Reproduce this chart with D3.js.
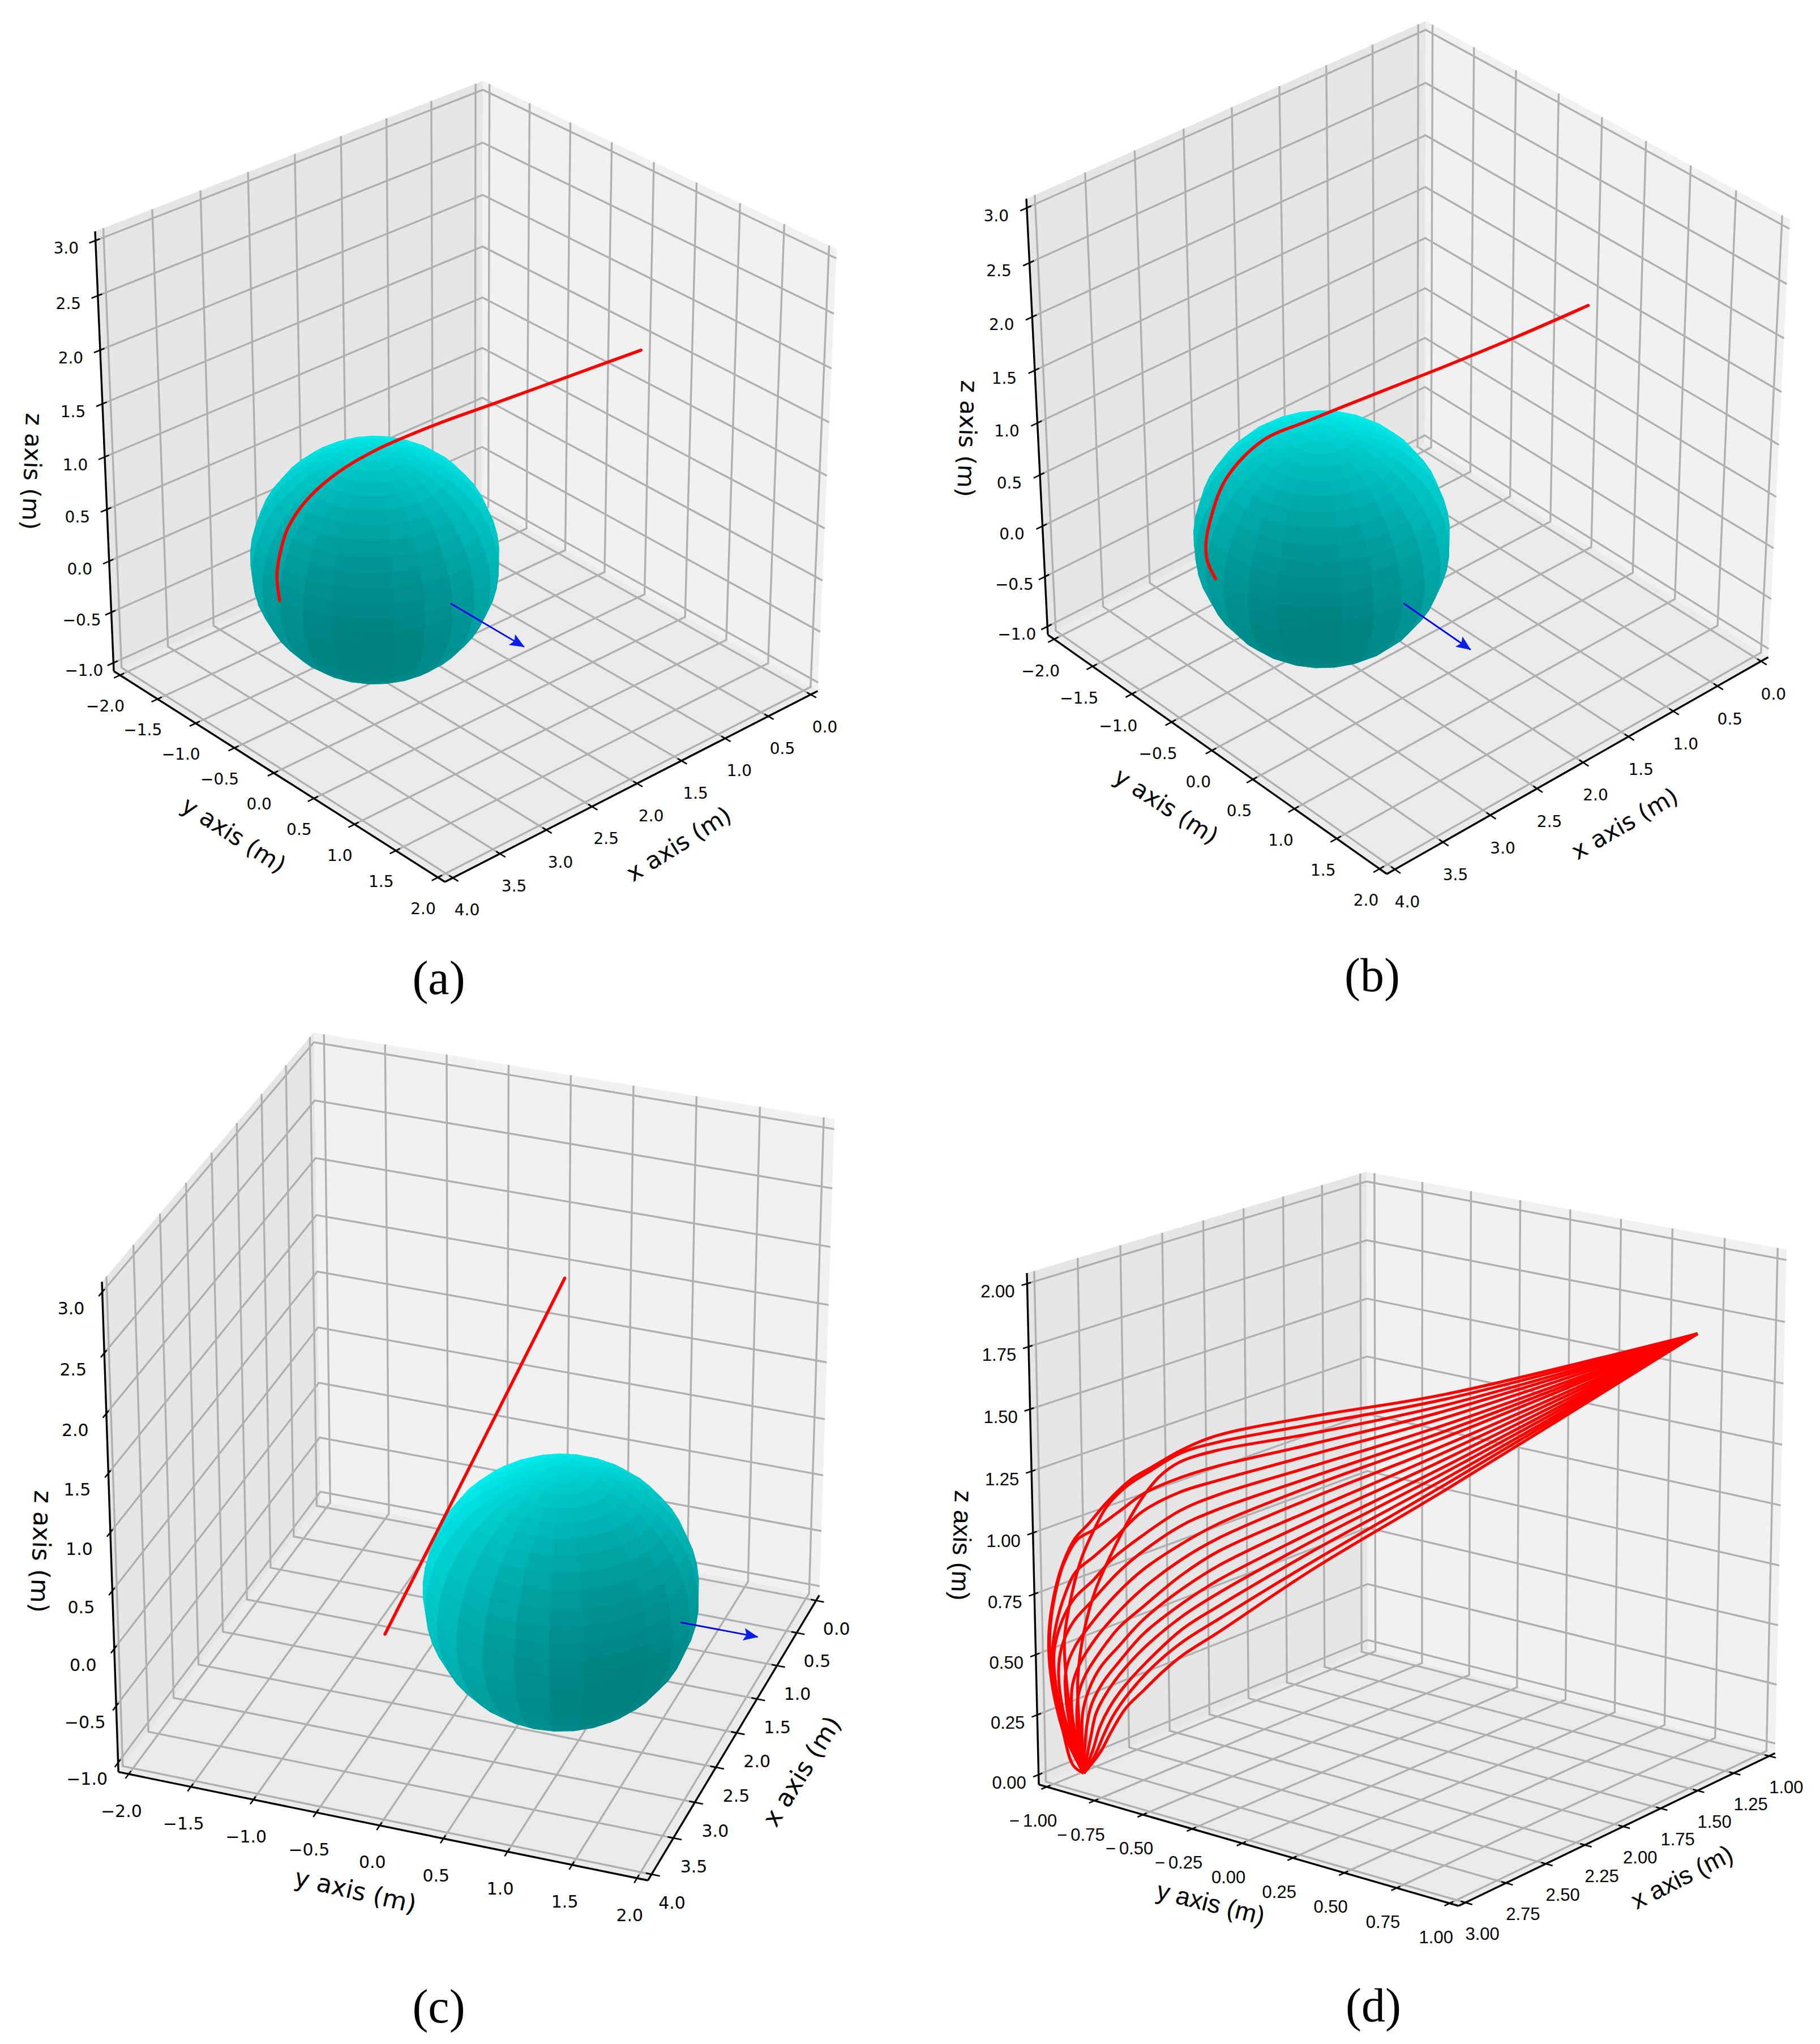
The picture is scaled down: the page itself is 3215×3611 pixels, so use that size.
<!DOCTYPE html>
<html>
<head>
<meta charset="utf-8">
<script src="https://cdn.jsdelivr.net/npm/d3@7"></script>
<style>
  body { margin: 0; background: #fff; }
</style>
</head>
<body>
<div id="chart"></div>
<script>
////////////////////////////////////////////////////////////////////////////////
// Data
////////////////////////////////////////////////////////////////////////////////
const ticksWide = { x: [0, 0.5, 1, 1.5, 2, 2.5, 3, 3.5, 4], y: [-2, -1.5, -1, -0.5, 0, 0.5, 1, 1.5, 2], z: [-1, -0.5, 0, 0.5, 1, 1.5, 2, 2.5, 3] };
const ticksNarrow = { x: [1, 1.25, 1.5, 1.75, 2, 2.25, 2.5, 2.75, 3], y: [-1, -0.75, -0.5, -0.25, 0, 0.25, 0.5, 0.75, 1], z: [0, 0.25, 0.5, 0.75, 1, 1.25, 1.5, 1.75, 2] };

// trajectory, one row per panel (a, b, c)
const trajX = [
  [0.02, 0.996, 1.993, 2.752, 3.488, 3.942, 4.226, 4.325, 4.285, 4.21, 4.04],
  [0.02, 0.996, 1.993, 2.752, 3.488, 3.942, 4.226, 4.325, 4.25, 4.16, 4.0],
  [0.02, 0.996, 1.993, 2.752, 3.488, 3.942, 4.226, 4.325, 4.25, 4.16, 4.0]
];
const trajY = [
  [0.0, 0.194, 0.388, 0.5, 0.61, 0.66, 0.63, 0.53, 0.37, 0.25, 0.07],
  [0.0, 0.194, 0.37, 0.47, 0.535, 0.53, 0.43, 0.34, 0.2, 0.1, 0.0],
  [0.0, 0.185, 0.367, 0.488, 0.598, 0.651, 0.619, 0.509, 0.332, 0.216, 0.022]
];
const trajZ = [
  [1.36, 1.56, 1.76, 1.89, 1.98, 1.96, 1.81, 1.56, 1.2, 0.96, 0.58],
  [1.36, 1.575, 1.795, 1.945, 2.06, 2.08, 1.81, 1.4, 1.1, 0.85, 0.55],
  [1.39, 1.6, 1.8, 1.91, 2.0, 2.02, 1.88, 1.6, 1.2, 0.95, 0.53]
];

// obstacle + velocity arrow, one entry per panel (a, b, c)
const sphereCenters = [[4.26, 1.49, 1.684], [4.26, 1.57, 1.87], [4.26, 1.46, 1.34]];
const sphereRadii = [0.95, 0.95, 0.98];
const arrowStarts = [[4.24, 2.33, 1.67], [4.24, 2.45, 1.75], [4.24, 2.345, 1.27]];
const arrowEnds = [[3.91, 2.79, 1.36], [3.91, 2.82, 1.37], [3.91, 2.815, 1.055]];

// fan of trajectories of panel d
const fanX = [
  [-0.027, 1.76, 2.624, 3.2, 3.41, 3.59, 3.696, 3.835, 3.942, 4.017, 4.086, 4.139, 4.171, 4.171, 4.15, 4.107, 4.054, 3.995],
  [-0.027, 1.76, 2.624, 3.2, 3.41, 3.59, 3.717, 3.835, 3.91, 3.984, 4.043, 4.086, 4.081, 4.048, 3.995],
  [-0.027, 1.76, 2.624, 3.2, 3.42, 3.535, 3.622, 3.707, 3.824, 3.91, 3.979, 4.017, 4.017, 3.995],
  [-0.027, 1.76, 2.624, 3.2, 3.42, 3.622, 3.771, 3.91, 4.006, 4.081, 4.134, 4.166, 4.166, 4.145, 4.101, 3.995],
  [-0.027, 1.76, 2.624, 3.2, 3.42, 3.642, 3.782, 3.91, 4.017, 4.081, 4.134, 4.155, 4.145, 4.091, 3.995],
  [-0.027, 1.76, 2.624, 3.2, 3.42, 3.642, 3.813, 3.92, 4.027, 4.101, 4.145, 4.139, 4.081, 3.995],
  [-0.027, 1.76, 2.624, 3.2, 3.42, 3.642, 3.782, 3.931, 4.037, 4.101, 4.123, 4.101, 3.995],
  [-0.027, 1.76, 2.624, 3.2, 3.42, 3.642, 3.803, 3.931, 4.027, 4.081, 4.086, 4.059, 3.995],
  [-0.027, 1.76, 2.624, 3.2, 3.42, 3.642, 3.782, 3.91, 4.006, 4.048, 4.054, 3.995],
  [-0.027, 1.76, 2.624, 3.2, 3.42, 3.642, 3.782, 3.888, 3.974, 4.017, 4.027, 3.995],
  [-0.027, 1.76, 2.624, 3.2, 3.42, 3.642, 3.782, 3.888, 3.952, 3.995, 3.995],
  [-0.027, 1.76, 2.624, 3.2, 3.42, 3.642, 3.782, 3.877, 3.942, 3.974, 3.995],
  [-0.027, 1.76, 2.624, 3.2, 3.42, 3.642, 3.782, 3.866, 3.92, 3.952, 3.995],
  [-0.027, 1.76, 2.624, 3.2, 3.42, 3.622, 3.76, 3.846, 3.899, 3.942, 3.995],
  [-0.027, 1.76, 2.624, 3.2, 3.42, 3.59, 3.728, 3.824, 3.877, 3.931, 3.995],
  [-0.027, 1.76, 2.624, 3.2, 3.42, 3.535, 3.642, 3.749, 3.835, 3.899, 3.995]
];
const fanZ = [
  [1.274, 1.45, 1.574, 1.644, 1.641, 1.619, 1.605, 1.555, 1.5, 1.466, 1.391, 1.285, 1.154, 1.033, 0.906, 0.763, 0.612, 0.562],
  [1.274, 1.43, 1.543, 1.618, 1.631, 1.608, 1.587, 1.54, 1.471, 1.381, 1.257, 1.109, 0.947, 0.746, 0.562],
  [1.274, 1.406, 1.507, 1.587, 1.598, 1.574, 1.528, 1.462, 1.345, 1.24, 1.098, 0.937, 0.787, 0.562],
  [1.274, 1.382, 1.465, 1.526, 1.538, 1.533, 1.501, 1.471, 1.458, 1.39, 1.283, 1.152, 1.031, 0.894, 0.751, 0.562],
  [1.274, 1.355, 1.423, 1.47, 1.483, 1.465, 1.413, 1.371, 1.34, 1.268, 1.163, 1.069, 0.924, 0.737, 0.562],
  [1.274, 1.326, 1.377, 1.414, 1.412, 1.374, 1.332, 1.282, 1.243, 1.173, 1.075, 0.943, 0.735, 0.562],
  [1.274, 1.3, 1.335, 1.358, 1.352, 1.313, 1.272, 1.205, 1.155, 1.083, 0.989, 0.831, 0.562],
  [1.274, 1.275, 1.299, 1.301, 1.281, 1.243, 1.188, 1.124, 1.062, 0.987, 0.889, 0.739, 0.562],
  [1.274, 1.243, 1.252, 1.245, 1.221, 1.172, 1.122, 1.059, 0.985, 0.917, 0.818, 0.562],
  [1.274, 1.214, 1.204, 1.194, 1.161, 1.102, 1.061, 1.001, 0.936, 0.868, 0.761, 0.562],
  [1.274, 1.185, 1.162, 1.138, 1.106, 1.052, 0.991, 0.941, 0.88, 0.792, 0.562],
  [1.274, 1.156, 1.116, 1.082, 1.05, 0.997, 0.931, 0.878, 0.815, 0.734, 0.562],
  [1.274, 1.131, 1.079, 1.031, 1.0, 0.941, 0.88, 0.825, 0.77, 0.688, 0.562],
  [1.274, 1.105, 1.038, 0.98, 0.95, 0.885, 0.825, 0.768, 0.713, 0.635, 0.562],
  [1.274, 1.081, 0.996, 0.929, 0.9, 0.855, 0.795, 0.732, 0.677, 0.611, 0.562],
  [1.274, 1.058, 0.965, 0.878, 0.848, 0.818, 0.78, 0.741, 0.675, 0.615, 0.562]
];
// the fan lies in a slightly tilted plane
const fanTilt = 0.026;
const fanDrop = -0.014;

////////////////////////////////////////////////////////////////////////////////
// Panel layout
////////////////////////////////////////////////////////////////////////////////
const sansWide = 'DejaVu Sans';
const sansD = 'Liberation Sans';

const panels = [
  { name: '(a)', capt: [775, 1727], elev: 30, azim: 48, dist: 10, ticks: ticksWide, fmt: d3.format('.1f'),
    box: [168, 1478, 143, 1558], font: sansWide, tickSize: 28, labelSize: 42,
    off: { x: [25, 57], y: [-26, 55], z: [-52, 14] },
    labels: { x: [1199, 1491, -32], y: [413, 1475, 33], z: [57, 833, 92] }, ball: 0 },
  { name: '(b)', capt: [2424, 1722], elev: 34, azim: 48, dist: 10, ticks: ticksWide, fmt: d3.format('.1f'),
    box: [1813, 3162, 37, 1544], font: sansWide, tickSize: 28, labelSize: 42,
    off: { x: [22, 58], y: [-24, 56], z: [-54, 14] },
    labels: { x: [2870, 1455, -30], y: [2060, 1424, 33], z: [1709, 775, 92] }, ball: 1 },
  { name: '(c)', capt: [775, 3544], elev: 30.5, azim: 20, dist: 12, ticks: ticksWide, fmt: d3.format('.1f'),
    box: [180, 1474, 1824, 3322], font: sansWide, tickSize: 30, labelSize: 44,
    off: { x: [36, 50], y: [-13, 65], z: [-55, 29] },
    labels: { x: [1416, 3129, -58], y: [628, 3340, 13], z: [73, 2741, 92] }, ball: 2 },
  { name: '(d)', capt: [2426, 3542], elev: 17.5, azim: 38, dist: 10, ticks: ticksNarrow, fmt: v => d3.format('.2f')(v).replace('\u2212', '\u2212\u2009'),
    box: [1814, 3156, 2070, 3367], font: sansD, tickSize: 31, labelSize: 45,
    off: { x: [30, 55], y: [-24, 60], z: [-52, 14] },
    labels: { x: [2971, 3316, -27], y: [2139, 3362, 14], z: [1699, 2730, 92] }, ball: -1 }
];

const svg = d3.select('#chart').append('svg')
  .attr('width', 3215).attr('height', 3611)
  .attr('viewBox', '0 0 3215 3611')
  .style('display', 'block')
  .style('background', '#fff');

const defs = svg.append('defs');
defs.append('marker')
  .attr('id', 'head')
  .attr('viewBox', '0 0 26 22')
  .attr('refX', 25).attr('refY', 11)
  .attr('markerUnits', 'userSpaceOnUse')
  .attr('markerWidth', 26).attr('markerHeight', 22)
  .attr('orient', 'auto')
  .append('path')
  .attr('d', 'M0,0 L26,11 L0,22 L5,11 Z')
  .attr('fill', '#0a1eeb');

const lineGen = d3.line();
const smoothGen = d3.line().curve(d3.curveCatmullRom.alpha(0.5));

////////////////////////////////////////////////////////////////////////////////
// Small mplot3d style projection
////////////////////////////////////////////////////////////////////////////////
function makeCamera(p) {
  const rad = Math.PI / 180;
  const el = p.elev * rad, az = p.azim * rad;
  const n = [Math.cos(el) * Math.cos(az), Math.cos(el) * Math.sin(az), Math.sin(el)];
  const eye = n.map(v => 0.5 + p.dist * v);
  let u = [-n[1], n[0], 0];
  const ul = Math.hypot(u[0], u[1]);
  u = u.map(v => v / ul);
  const v = [n[1] * u[2] - n[2] * u[1], n[2] * u[0] - n[0] * u[2], n[0] * u[1] - n[1] * u[0]];
  const lim = axis => d3.extent(p.ticks[axis]);
  const [x0, x1] = lim('x'), [y0, y1] = lim('y'), [z0, z1] = lim('z');
  const toCube = q => [(q[0] - x0) / (x1 - x0), (q[1] - y0) / (y1 - y0), (q[2] - z0) / (z1 - z0)];
  const raw = q => {
    const c = toCube(q);
    const d = [c[0] - eye[0], c[1] - eye[1], c[2] - eye[2]];
    const a = u[0] * d[0] + u[1] * d[1] + u[2] * d[2];
    const b = v[0] * d[0] + v[1] * d[1] + v[2] * d[2];
    const w = -(n[0] * d[0] + n[1] * d[1] + n[2] * d[2]);
    return [a / w, b / w, w];
  };
  return { raw, x0, x1, y0, y1, z0, z1 };
}

function drawPanel(p) {
  const cam = makeCamera(p);
  const { x0, x1, y0, y1, z0, z1 } = cam;
  const dx = (x1 - x0) / 48, dy = (y1 - y0) / 48, dz = (z1 - z0) / 48;
  const X0 = x0 - dx, X1 = x1 + dx, Y0 = y0 - dy, Y1 = y1 + dy, Z0 = z0 - dz, Z1 = z1 + dz;

  // the seven box corners that show decide the scales
  const corners = [[X0, Y0, Z0], [X1, Y0, Z0], [X0, Y1, Z0], [X1, Y1, Z0], [X0, Y0, Z1], [X1, Y0, Z1], [X0, Y1, Z1]].map(cam.raw);
  const sx = d3.scaleLinear().domain(d3.extent(corners, c => c[0])).range([p.box[0], p.box[1]]);
  const sy = d3.scaleLinear().domain(d3.extent(corners, c => c[1])).range([p.box[3], p.box[2]]);
  const proj = q => { const r = cam.raw(q); return [sx(r[0]), sy(r[1])]; };

  const g = svg.append('g').attr('class', 'panel');

  // panes
  const panes = [
    { c: '#ebebeb', pts: [[X0, Y0, Z0], [X1, Y0, Z0], [X1, Y1, Z0], [X0, Y1, Z0]] },
    { c: '#e6e6e6', pts: [[X0, Y0, Z0], [X1, Y0, Z0], [X1, Y0, Z1], [X0, Y0, Z1]] },
    { c: '#f1f1f1', pts: [[X0, Y0, Z0], [X0, Y1, Z0], [X0, Y1, Z1], [X0, Y0, Z1]] }
  ];
  g.selectAll('.pane').data(panes).join('path')
    .attr('class', 'pane')
    .attr('fill', d => d.c)
    .attr('d', d => lineGen(d.pts.map(proj)) + 'Z');

  // grid
  const gridLines = [
    ...p.ticks.x.map(t => [[t, Y1, Z0], [t, Y0, Z0], [t, Y0, Z1]]),
    ...p.ticks.y.map(t => [[X1, t, Z0], [X0, t, Z0], [X0, t, Z1]]),
    ...p.ticks.z.map(t => [[X1, Y0, t], [X0, Y0, t], [X0, Y1, t]])
  ];
  g.selectAll('.grid').data(gridLines).join('path')
    .attr('class', 'grid')
    .attr('fill', 'none')
    .attr('stroke', '#b0b0b0')
    .attr('stroke-width', 3.4)
    .attr('d', d => lineGen(d.map(proj)));

  // axis lines
  const axisLines = [[[X0, Y1, Z0], [X1, Y1, Z0]], [[X1, Y0, Z0], [X1, Y1, Z0]], [[X1, Y0, Z0], [X1, Y0, Z1]]];
  g.selectAll('.axis').data(axisLines).join('path')
    .attr('class', 'axis')
    .attr('stroke', '#000')
    .attr('stroke-width', 3.4)
    .attr('d', d => lineGen(d.map(proj)));

  // ticks and tick labels
  const tOut = 0.016, tIn = 0.011;
  const rx = x1 - x0, ry = y1 - y0;
  const tickRows = [
    ...p.ticks.x.map(t => ({ ax: 'x', t, a: [t, Y1 + tOut * ry, Z0], b: [t, Y1 - tIn * ry, Z0], m: [t, Y1, Z0] })),
    ...p.ticks.y.map(t => ({ ax: 'y', t, a: [X1 + tOut * rx, t, Z0], b: [X1 - tIn * rx, t, Z0], m: [X1, t, Z0] })),
    ...p.ticks.z.map(t => ({ ax: 'z', t, a: [X1 + tOut * rx, Y0, t], b: [X1 - tIn * rx, Y0, t], m: [X1, Y0, t] }))
  ];
  g.selectAll('.tick').data(tickRows).join('path')
    .attr('class', 'tick')
    .attr('stroke', '#000')
    .attr('stroke-width', 2.6)
    .attr('d', d => lineGen([proj(d.a), proj(d.b)]));
  g.selectAll('.ticklabel').data(tickRows).join('text')
    .attr('class', 'ticklabel')
    .attr('text-anchor', 'middle')
    .attr('dominant-baseline', 'central')
    .attr('font-family', p.font)
    .attr('font-size', p.tickSize)
    .attr('x', d => proj(d.m)[0] + p.off[d.ax][0])
    .attr('y', d => proj(d.m)[1] + p.off[d.ax][1])
    .text(d => p.fmt(d.t));

  // axis titles
  const titles = [['x axis (m)', p.labels.x], ['y axis (m)', p.labels.y], ['z axis (m)', p.labels.z]];
  g.selectAll('.title').data(titles).join('text')
    .attr('class', 'title')
    .attr('text-anchor', 'middle')
    .attr('dominant-baseline', 'central')
    .attr('font-family', p.font)
    .attr('font-size', p.labelSize)
    .attr('transform', d => `translate(${d[1][0]},${d[1][1]}) rotate(${d[1][2]})`)
    .text(d => d[0]);

  // sphere, flat shaded the way plot_surface does it
  if (p.ball >= 0) {
    const center = sphereCenters[p.ball], radius = sphereRadii[p.ball];
    const lats = d3.range(26).map(i => i * Math.PI / 25);
    const lons = d3.range(26).map(i => i * 2 * Math.PI / 25);
    const light = [-0.667, -0.667, 0.333];
    const pt = (la, lo) => [
      center[0] + radius * Math.sin(la) * Math.cos(lo),
      center[1] + radius * Math.sin(la) * Math.sin(lo),
      center[2] + radius * Math.cos(la)];
    const faces = [];
    d3.pairs(lats).forEach(([a, b]) => d3.pairs(lons).forEach(([c, d]) => {
      const la = (a + b) / 2, lo = (c + d) / 2;
      const nrm = [Math.sin(la) * Math.cos(lo), Math.sin(la) * Math.sin(lo), Math.cos(la)];
      const s = nrm[0] * light[0] + nrm[1] * light[1] + nrm[2] * light[2];
      const val = Math.round(255 * (0.5 + 0.5 * (s + 1) / 2));
      faces.push({ pts: [pt(a, c), pt(a, d), pt(b, d), pt(b, c)], col: `rgb(0,${val},${val})`, depth: cam.raw(pt(la, lo))[2] });
    }));
    faces.sort((f1, f2) => f2.depth - f1.depth);
    g.selectAll('.facet').data(faces).join('path')
      .attr('class', 'facet')
      .attr('fill', d => d.col)
      .attr('stroke', d => d.col)
      .attr('stroke-width', 0.8)
      .attr('d', d => lineGen(d.pts.map(proj)) + 'Z');

    // velocity arrow
    g.append('path')
      .attr('fill', 'none')
      .attr('stroke', '#0000f0')
      .attr('stroke-width', 2.8)
      .attr('marker-end', 'url(#head)')
      .attr('d', lineGen([arrowStarts[p.ball], arrowEnds[p.ball]].map(proj)));

    // trajectory
    g.append('path')
      .attr('fill', 'none')
      .attr('stroke', '#ff0000')
      .attr('stroke-width', 5.5)
      .attr('stroke-linecap', 'round')
      .attr('d', smoothGen(trajX[p.ball].map((v, i) => proj([v, trajY[p.ball][i], trajZ[p.ball][i]]))));
  } else {
    g.selectAll('.fan').data(fanX).join('path')
      .attr('class', 'fan')
      .attr('fill', 'none')
      .attr('stroke', '#ff0000')
      .attr('stroke-width', 5.2)
      .attr('stroke-linejoin', 'round')
      .attr('d', (d, k) => smoothGen(d.map((v, i) => proj([v, fanTilt * (v - 2), fanZ[k][i] + fanDrop * (v - 2)]))));
  }

  // caption
  g.append('text')
    .attr('x', p.capt[0]).attr('y', p.capt[1])
    .attr('text-anchor', 'middle')
    .attr('dominant-baseline', 'central')
    .attr('font-family', 'Liberation Serif')
    .attr('font-size', 84)
    .text(p.name);
}

panels.forEach(drawPanel);
</script>
</body>
</html>
